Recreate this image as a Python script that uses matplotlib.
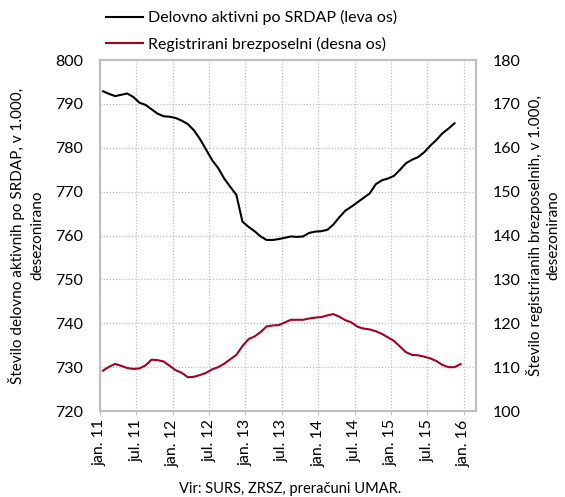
import matplotlib
matplotlib.use("Agg")
import matplotlib.pyplot as plt
import numpy as np

plt.rcParams['font.family'] = ['Lato', 'DejaVu Sans']

# monthly values, jan 2011 onwards
aktivni = [792.9, 792.3, 791.8, 792.1, 792.4, 791.6, 790.3, 789.8, 788.8, 787.8,
           787.2, 787.1, 786.8, 786.2, 785.4, 784.0, 782.0, 779.6, 777.2, 775.4,
           773.0, 771.1, 769.3, 763.2, 762.0, 761.0, 759.8, 759.0, 759.0, 759.2,
           759.5, 759.8, 759.7, 759.8, 760.6, 760.9, 761.0, 761.3, 762.5, 764.2,
           765.7, 766.6, 767.6, 768.6, 769.6, 771.7, 772.6, 773.0, 773.6, 775.0,
           776.5, 777.3, 777.9, 779.0, 780.5, 781.8, 783.3, 784.4, 785.6]
brezposelni = [109.2, 110.1, 110.75, 110.3, 109.8, 109.6, 109.7, 110.4, 111.7, 111.6,
               111.3, 110.3, 109.3, 108.7, 107.7, 107.8, 108.2, 108.7, 109.5, 110.0,
               110.8, 111.8, 112.8, 114.8, 116.4, 117.0, 118.0, 119.3, 119.5, 119.6,
               120.2, 120.8, 120.8, 120.8, 121.1, 121.3, 121.4, 121.8, 122.1, 121.5,
               120.7, 120.2, 119.2, 118.8, 118.6, 118.2, 117.6, 116.8, 116.0, 114.7,
               113.4, 112.8, 112.7, 112.4, 112.0, 111.4, 110.5, 110.0, 110.0, 110.7]
tick_labels = ["jan. 11", "jul. 11", "jan. 12", "jul. 12", "jan. 13", "jul. 13",
               "jan. 14", "jul. 14", "jan. 15", "jul. 15", "jan. 16"]

red = "#a50021"
grey = "#bfbfbf"

fig = plt.figure(figsize=(5.65, 4.97), dpi=100)
ax = fig.add_axes([0.177, 0.173, 0.665, 0.706])
ax2 = ax.twinx()

x1 = np.arange(len(aktivni)) + 0.5
x2 = np.arange(len(brezposelni)) + 0.5
l1, = ax.plot(x1, aktivni, color="black", lw=1.5,
              label="Delovno aktivni po SRDAP (leva os)")
l2, = ax2.plot(x2, brezposelni, color=red, lw=1.5,
               label="Registrirani brezposelni (desna os)")

ax.set_xlim(0, 62)
ax.set_ylim(720, 800)
ax2.set_ylim(100, 180)
ax.set_yticks(np.arange(720, 801, 10))
ax2.set_yticks(np.arange(100, 181, 10))
ax.set_xticks(np.arange(0, 61, 6))
ax.set_xticklabels(tick_labels, rotation=90)

ax.grid(True, color=grey, linestyle=(0, (1, 1.5)), lw=0.9)
ax.set_axisbelow(True)
for a in (ax, ax2):
    for s in a.spines.values():
        s.set_color(grey)
        s.set_linewidth(1.5)
    a.tick_params(axis="y", length=0, labelsize=11.5, pad=12)
ax.tick_params(axis="x", length=3, color=grey, labelsize=11.5, pad=3)

ax.set_ylabel("Število delovno aktivnih po SRDAP, v 1.000,\ndesezonirano",
              fontsize=11, labelpad=8, linespacing=1.45)
ax2.set_ylabel("Število registriranih brezposelnih, v 1.000,\ndesezonirano",
               fontsize=11, labelpad=4, rotation=90, linespacing=1.3)

fig.legend(handles=[l1, l2], loc="upper left", bbox_to_anchor=(0.17, 1.0),
           frameon=False, fontsize=11.5, handlelength=2.3, handletextpad=0.3,
           labelspacing=0.7, borderaxespad=0.25)

fig.text(0.513, 0.008, "Vir: SURS, ZRSZ, preračuni UMAR.", ha="center",
         fontsize=10.5)

fig.savefig("out.png", dpi=100)
